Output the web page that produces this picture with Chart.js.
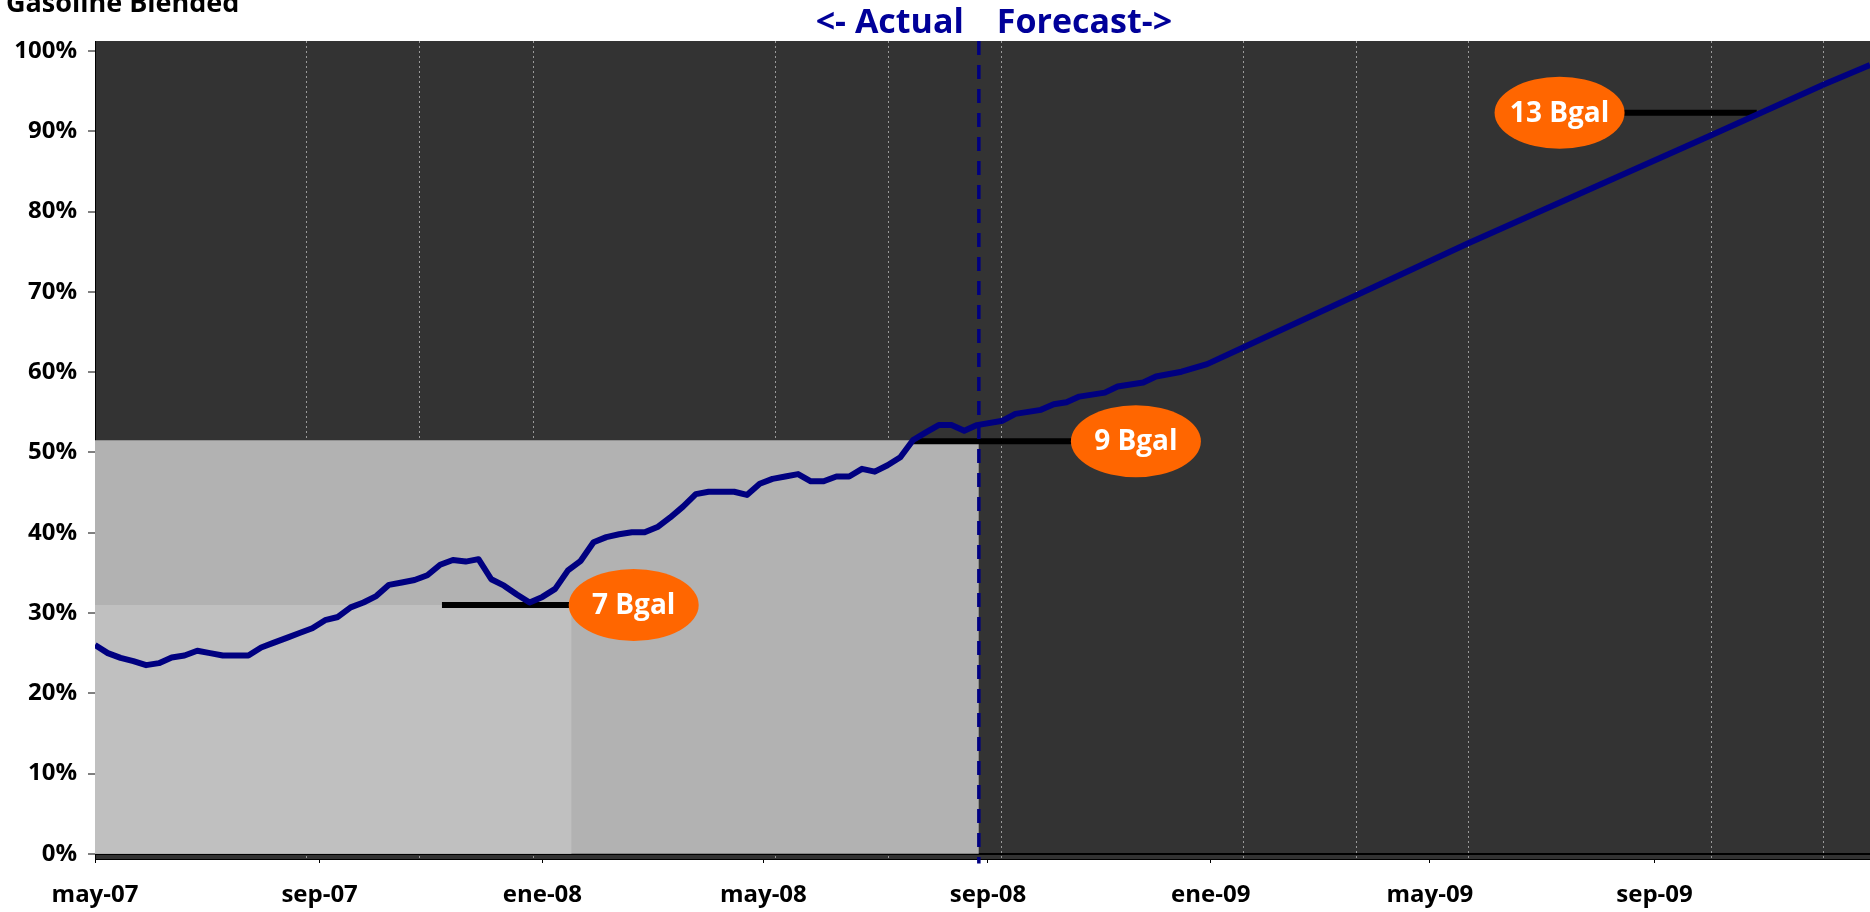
<!DOCTYPE html>
<html>
<head>
<meta charset="utf-8">
<script src="https://cdn.jsdelivr.net/npm/chart.js@4.4.1/dist/chart.umd.min.js"></script>
<style>
  html, body { margin: 0; padding: 0; background: #fff; }
  #wrap { width: 1870px; height: 912px; }
</style>
</head>
<body>
<div id="wrap"><canvas id="blendChart"></canvas></div>
<script>
// weekly share of gasoline blended, first week of may-07 to the forecast split (actual)
const actualShare = [
  26.0, 25.0, 24.4, 24.0, 23.5, 23.75, 24.45, 24.7, 25.3, 25.0,
  24.7, 24.7, 24.7, 25.7, 26.3, 26.9, 27.5, 28.1, 29.1, 29.5,
  30.7, 31.3, 32.1, 33.5, 33.8, 34.1, 34.7, 36.0, 36.6, 36.4,
  36.7, 34.2, 33.4, 32.3, 31.3, 32.0, 33.0, 35.3, 36.5, 38.8,
  39.45, 39.8, 40.05, 40.05, 40.7, 41.9, 43.25, 44.8, 45.1, 45.1,
  45.1, 44.7, 46.1, 46.7, 47.0, 47.3, 46.4, 46.4, 47.0, 47.0,
  47.95, 47.6, 48.4, 49.4, 51.55, 52.5, 53.4, 53.4, 52.7, 53.4
];
// forecast, x in days since 1 may 2007
const forecastDays = [497, 504, 518, 525, 532, 539, 553, 560, 574, 581, 595, 609, 629, 691, 752, 885, 947, 972];
const forecastShare = [53.95, 54.8, 55.3, 56.0, 56.25, 56.95, 57.45, 58.2, 58.7, 59.45, 60.05, 61.0, 63.1, 69.6, 76.05, 89.5, 95.85, 98.25];

const xTickDays = [0, 123, 245, 366, 489, 611, 731, 854];
const xTickLabels = ['may-07', 'sep-07', 'ene-08', 'may-08', 'sep-08', 'ene-09', 'may-09', 'sep-09'];
const minorGridDays = [115.6, 177.5, 239.9, 372.5, 434.4, 496.3, 628.9, 690.8, 752.1, 885.2, 946.6];
const yTickValues = [0, 10, 20, 30, 40, 50, 60, 70, 80, 90, 100];

const forecastStartDay = 484;

// capacity markers
const capacityLabels = ['7 Bgal', '9 Bgal', '13 Bgal'];
const capacityShare = [31, 51.4, 92.3];
const bubbleDays = [295, 570, 802];
const leaderStartDays = [190, 448, 802];
const leaderEndDays = [295, 570, 910];
// shaded blocks for 7 and 9 Bgal
const shadeStartDays = [0, -3];
const shadeEndDays = [261, 484];
const shadeShare = [31, 51.5];

const blendPoints = actualShare.map((v, i) => ({ x: i * 7, y: v }))
  .concat(forecastDays.map((d, i) => ({ x: d, y: forecastShare[i] })));

const FONT = "'Open Sans', sans-serif";
Chart.defaults.font.family = FONT;

const backdrop = {
  id: 'backdrop',
  beforeDraw(chart) {
    const { ctx, chartArea: a } = chart;
    ctx.save();
    ctx.fillStyle = '#333333';
    ctx.fillRect(a.left, a.top, a.right - a.left, a.bottom - a.top);
    ctx.restore();
  }
};

const bubbles = {
  id: 'bubbles',
  afterDatasetsDraw(chart) {
    const { ctx, scales: { x, y } } = chart;
    ctx.save();
    capacityLabels.forEach((label, i) => {
      const cx = x.getPixelForValue(bubbleDays[i]);
      const cy = y.getPixelForValue(capacityShare[i]);
      ctx.beginPath();
      ctx.ellipse(cx, cy, 65, 36, 0, 0, Math.PI * 2);
      ctx.fillStyle = '#ff6600';
      ctx.fill();
      ctx.fillStyle = '#fff';
      ctx.font = 'bold 28px ' + FONT;
      ctx.textAlign = 'center';
      ctx.textBaseline = 'middle';
      ctx.fillText(label, cx, cy + 1);
    });
    ctx.restore();
  }
};

const headings = {
  id: 'headings',
  afterDraw(chart) {
    const { ctx, scales: { x } } = chart;
    const split = x.getPixelForValue(forecastStartDay);
    ctx.save();
    ctx.textBaseline = 'alphabetic';
    ctx.fillStyle = '#000';
    ctx.font = 'bold 27px ' + FONT;
    ctx.textAlign = 'left';
    ctx.fillText('Gasoline Blended', 6, 12);
    ctx.fillStyle = '#000099';
    ctx.font = 'bold 34px ' + FONT;
    ctx.textAlign = 'right';
    ctx.fillText('<- Actual', split - 15, 33);
    ctx.textAlign = 'left';
    ctx.fillText('Forecast->', split + 18, 33);
    ctx.restore();
  }
};

const leaderSets = capacityLabels.map((label, i) => ({
  label: label + ' leader',
  data: [{ x: leaderStartDays[i], y: capacityShare[i] }, { x: leaderEndDays[i], y: capacityShare[i] }],
  borderColor: '#000',
  borderWidth: 6,
  pointRadius: 0,
  order: 2
}));

const shadeColors = ['#c0c0c0', '#b2b2b2'];
const shadeSets = shadeShare.map((v, i) => ({
  label: capacityLabels[i] + ' shade',
  data: [{ x: shadeStartDays[i], y: v }, { x: shadeEndDays[i], y: v }],
  fill: 'origin',
  backgroundColor: shadeColors[i],
  borderWidth: 0,
  pointRadius: 0,
  clip: { left: 7, top: 0, right: 0, bottom: 0 },
  order: 3 + i
}));

new Chart(document.getElementById('blendChart'), {
  type: 'line',
  data: {
    datasets: [
      {
        label: 'Gasoline Blended',
        data: blendPoints,
        borderColor: '#000080',
        borderWidth: 6,
        pointRadius: 0,
        borderJoinStyle: 'round',
        order: 0
      },
      {
        label: 'split',
        data: [{ x: forecastStartDay, y: 101.25 }, { x: forecastStartDay, y: -1.2 }],
        borderColor: '#000080',
        borderWidth: 3.5,
        borderDash: [14, 10],
        pointRadius: 0,
        clip: { left: 0, top: 0, right: 0, bottom: 6 },
        order: 1
      },
      ...leaderSets,
      ...shadeSets
    ]
  },
  options: {
    responsive: true,
    maintainAspectRatio: false,
    animation: false,
    layout: { padding: { top: 41, left: 0, right: 0, bottom: 0 } },
    plugins: { legend: { display: false }, tooltip: { enabled: false } },
    scales: {
      x: {
        type: 'linear',
        min: 0,
        max: 972,
        afterBuildTicks(scale) { scale.ticks = xTickDays.map(v => ({ value: v })); },
        afterFit(scale) { scale.height = 53; },
        ticks: {
          callback: (v, i) => xTickLabels[i],
          color: '#000',
          font: { size: 24, weight: 'bold' },
          padding: 18,
          maxRotation: 0,
          autoSkip: false
        },
        grid: { drawOnChartArea: false, tickColor: '#000', tickLength: 4 },
        border: { color: '#000' }
      },
      xMinor: {
        type: 'linear',
        position: 'bottom',
        min: 0,
        max: 972,
        afterBuildTicks(scale) { scale.ticks = minorGridDays.map(v => ({ value: v })); },
        afterFit(scale) { scale.height = 0; },
        ticks: { display: false },
        grid: { color: '#9a9a9a', lineWidth: 1, drawTicks: false },
        border: { display: false, dash: [2, 3] }
      },
      y: {
        min: -0.65,
        max: 101.25,
        afterBuildTicks(scale) { scale.ticks = yTickValues.map(v => ({ value: v })); },
        afterFit(scale) { scale.width = 95; },
        ticks: {
          callback: v => v + '%',
          color: '#000',
          font: { size: 24, weight: 'bold' },
          padding: 11
        },
        grid: {
          color: c => (c.tick && c.tick.value === 0 ? '#000' : 'rgba(0,0,0,0)'),
          lineWidth: 2,
          tickColor: '#000',
          tickWidth: 1,
          tickLength: 7
        },
        border: { color: '#000', width: 1 },
        z: 1
      }
    }
  },
  plugins: [backdrop, bubbles, headings]
});
</script>
</body>
</html>
